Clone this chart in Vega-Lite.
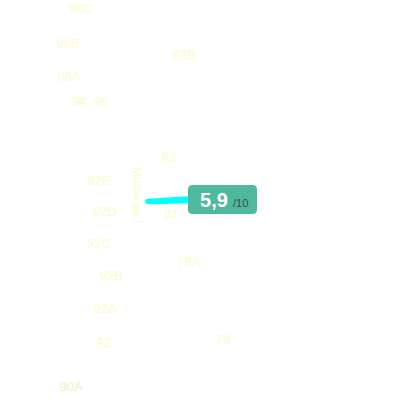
{
  "$schema": "https://vega.github.io/schema/vega-lite/v6.json",
  "width": 400,
  "height": 400,
  "padding": 0,
  "autosize": "none",
  "background": "white",
  "view": {"stroke": null},
  "config": {"axis": {"domain": false, "grid": false, "ticks": false, "labels": false, "title": null}},
  "datasets": {
    "labels": [
      {"label": "96C", "px": 81, "py": 9, "tone": "y"},
      {"label": "96B", "px": 68, "py": 44, "tone": "y"},
      {"label": "83B", "px": 184, "py": 55, "tone": "y"},
      {"label": "96A", "px": 69, "py": 77, "tone": "y"},
      {"label": "94", "px": 79, "py": 102, "tone": "y"},
      {"label": "96", "px": 101, "py": 102, "tone": "y"},
      {"label": "83", "px": 169, "py": 158, "tone": "y"},
      {"label": "92E", "px": 99, "py": 181, "tone": "y"},
      {"label": "92D", "px": 105, "py": 212, "tone": "y"},
      {"label": "81", "px": 171, "py": 214, "tone": "y"},
      {"label": "92C", "px": 99, "py": 244, "tone": "y"},
      {"label": "79A", "px": 189, "py": 262, "tone": "y"},
      {"label": "92B", "px": 111, "py": 276, "tone": "y"},
      {"label": "92A", "px": 105, "py": 309, "tone": "y"},
      {"label": "79", "px": 223, "py": 340, "tone": "y"},
      {"label": "92", "px": 104, "py": 343, "tone": "y"},
      {"label": "90A", "px": 71, "py": 387, "tone": "g"}
    ],
    "needle": [
      {"px": 148, "py": 201.5, "w": 5.5},
      {"px": 196, "py": 199.5, "w": 7.5}
    ],
    "badge": [
      {"x0": 188, "x1": 257, "y0": 185, "y1": 214, "score": "5,9", "of": "/10"}
    ]
  },
  "encoding": {
    "x": {"field": "px", "type": "quantitative", "scale": {"domain": [0, 400]}, "axis": null},
    "y": {"field": "py", "type": "quantitative", "scale": {"domain": [0, 400], "reverse": true}, "axis": null}
  },
  "layer": [
    {
      "data": {"name": "labels"},
      "mark": {"type": "text", "font": "Liberation Sans", "fontSize": 13, "align": "center", "baseline": "middle"},
      "encoding": {
        "text": {"field": "label"},
        "color": {"field": "tone", "type": "nominal", "scale": {"domain": ["y", "g"], "range": ["#fdfbcc", "#e8f7c8"]}, "legend": null}
      }
    },
    {
      "data": {"values": [{"px": 137, "py": 195, "label": "Mustangs I"}]},
      "mark": {"type": "text", "font": "Liberation Sans", "fontSize": 11.5, "angle": 90, "align": "center", "baseline": "middle", "color": "#fdfbcc"},
      "encoding": {"text": {"field": "label"}}
    },
    {
      "data": {"name": "needle"},
      "mark": {"type": "trail", "color": "#00ffff"},
      "encoding": {
        "size": {"field": "w", "type": "quantitative", "scale": {"domain": [0, 10], "range": [0, 10], "zero": true}, "legend": null}
      }
    },
    {
      "data": {"name": "badge"},
      "mark": {"type": "rect", "color": "#4fb89d", "cornerRadius": 4},
      "encoding": {
        "x": {"field": "x0", "type": "quantitative"},
        "x2": {"field": "x1"},
        "y": {"field": "y0", "type": "quantitative"},
        "y2": {"field": "y1"}
      }
    },
    {
      "data": {"name": "badge"},
      "mark": {"type": "text", "font": "Liberation Sans", "fontWeight": "bold", "fontSize": 20, "align": "center", "baseline": "alphabetic", "color": "white", "dx": 26, "dy": 22},
      "encoding": {
        "x": {"field": "x0", "type": "quantitative"},
        "y": {"field": "y0", "type": "quantitative"},
        "text": {"field": "score"}
      }
    },
    {
      "data": {"name": "badge"},
      "mark": {"type": "text", "font": "Liberation Sans", "fontSize": 11, "align": "left", "baseline": "alphabetic", "color": "#2f4f46", "dx": 45, "dy": 22},
      "encoding": {
        "x": {"field": "x0", "type": "quantitative"},
        "y": {"field": "y0", "type": "quantitative"},
        "text": {"field": "of"}
      }
    }
  ]
}
